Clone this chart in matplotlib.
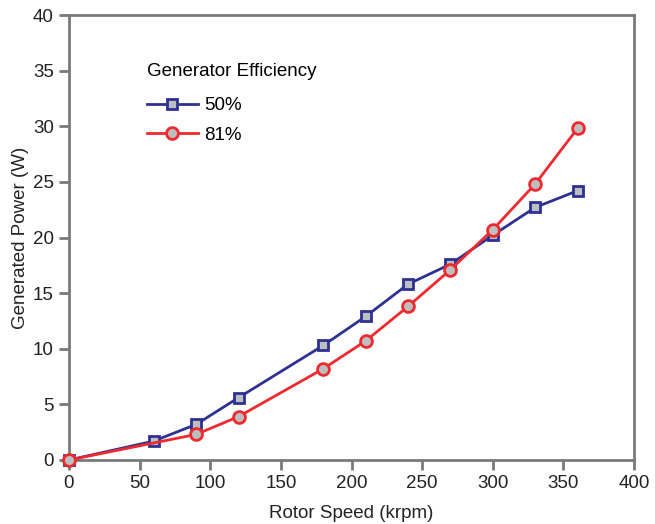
import matplotlib
matplotlib.use("Agg")
import matplotlib.pyplot as plt

plt.rcParams['font.family'] = ['Liberation Sans', 'DejaVu Sans']

speed_50 = [0, 60, 90, 120, 180, 210, 240, 270, 300, 330, 360]
power_50 = [0, 1.7, 3.2, 5.6, 10.3, 12.9, 15.8, 17.6, 20.2, 22.7, 24.2]
speed_81 = [0, 90, 120, 180, 210, 240, 270, 300, 330, 360]
power_81 = [0, 2.3, 3.9, 8.2, 10.7, 13.8, 17.1, 20.7, 24.8, 29.8]
series_labels = ["50%", "81%"]
legend_title = "Generator Efficiency"
x_ticks = [0, 50, 100, 150, 200, 250, 300, 350, 400]
y_ticks = [0, 5, 10, 15, 20, 25, 30, 35, 40]

blue = "#2E3192"
red = "#EE2A2F"
face = "#BCBEC0"
gray = "#7A7A7A"

fig = plt.figure(figsize=(6.55, 5.24), dpi=100)
ax = fig.add_axes([69/655, 64/524, 565/655, 445/524])

ax.plot(speed_50, power_50, color=blue, lw=2, marker='s', ms=7,
        mfc=face, mec=blue, mew=2, label=series_labels[0], clip_on=False, zorder=3)
ax.plot(speed_81, power_81, color=red, lw=2, marker='o', ms=8.5,
        mfc=face, mec=red, mew=2, label=series_labels[1], clip_on=False, zorder=4)

ax.set_xlim(0, 400)
ax.set_ylim(0, 40)
ax.set_xticks(x_ticks)
ax.set_yticks(y_ticks)
for s in ax.spines.values():
    s.set_color(gray)
    s.set_linewidth(2)
ax.tick_params(colors=gray, width=2, length=7, labelsize=13.5, labelcolor='#222222', pad=4)
ax.set_xlabel("Rotor Speed (krpm)", fontsize=13.5, color='#222222', labelpad=9)
ax.set_ylabel("Generated Power (W)", fontsize=13.5, color='#222222', labelpad=3)

leg = ax.legend(title=legend_title, loc='upper left', bbox_to_anchor=(0.108, 0.929),
                frameon=False, fontsize=13.5, title_fontsize=13.5, alignment='left',
                handlelength=2.7, handletextpad=0.35, labelspacing=0.66)
leg._legend_box.sep = 0.66 * 13.5 + 3

fig.savefig("out.png", dpi=100)
